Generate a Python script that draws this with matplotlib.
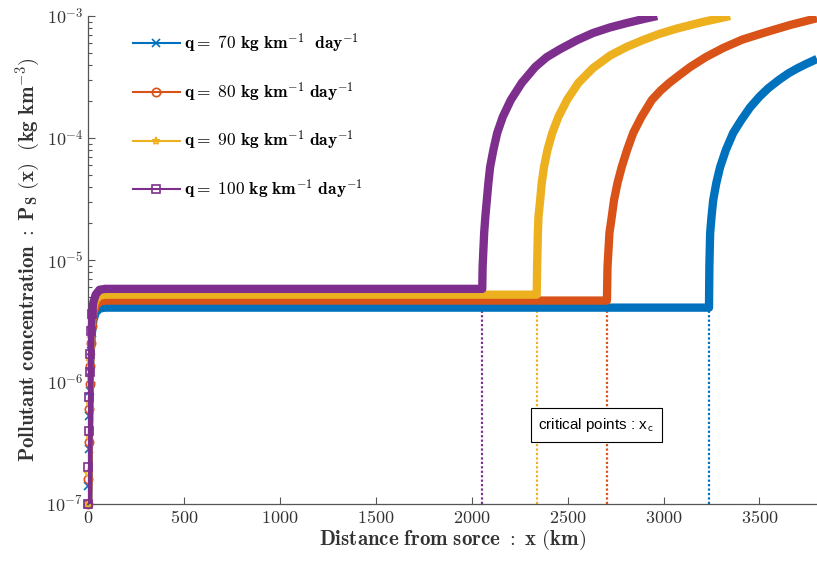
#!/usr/bin/env python3
"""Pollutant concentration along the river for four source loads (log scale)."""

from __future__ import annotations

import math

import matplotlib

matplotlib.use("Agg")
import matplotlib.pyplot as plt
from matplotlib.lines import Line2D
from matplotlib.ticker import FuncFormatter, LogLocator, NullFormatter

LABELS = [
    r"$\mathbf{q{=}\ 70\ kg\ km^{-1}\ \ day^{-1}}$",
    r"$\mathbf{q{=}\ 80\ kg\ km^{-1}\ day^{-1}}$",
    r"$\mathbf{q{=}\ 90\ kg\ km^{-1}\ day^{-1}}$",
    r"$\mathbf{q{=}\ 100\ kg\ km^{-1}\ day^{-1}}$",
]
COLORS = ["#0072BD", "#D95319", "#EDB120", "#7E2F8E"]
MARKERS = ["x", "o", "*", "s"]

# start-up rise near the source (same x for all four loads)
X_START = [0, 2, 4, 6, 8, 10, 14, 20, 28, 40, 60, 90]
Y_START = [
    [1.0e-7, 1.4e-7, 2.8e-7, 5.3e-7, 8.4e-7, 1.2e-6, 1.8e-6, 2.5e-6, 3.2e-6, 3.7e-6, 4.0e-6, 4.07e-6],
    [1.0e-7, 1.6e-7, 3.2e-7, 6.0e-7, 9.6e-7, 1.35e-6, 2.1e-6, 2.9e-6, 3.6e-6, 4.2e-6, 4.55e-6, 4.65e-6],
    [1.0e-7, 1.8e-7, 3.6e-7, 6.8e-7, 1.1e-6, 1.5e-6, 2.3e-6, 3.2e-6, 4.1e-6, 4.7e-6, 5.1e-6, 5.2e-6],
    [1.0e-7, 2.0e-7, 4.0e-7, 7.5e-7, 1.2e-6, 1.7e-6, 2.6e-6, 3.6e-6, 4.5e-6, 5.2e-6, 5.7e-6, 5.8e-6],
]

# critical points x_c and plateau level reached there
X_CRIT = [3237, 2705, 2339, 2055]
P_PLATEAU = [4.07e-6, 4.65e-6, 5.2e-6, 5.8e-6]

# growth after the critical point
X_GROW = [
    [3239, 3243, 3250, 3259, 3275, 3295, 3325, 3363, 3405, 3451, 3500, 3545, 3600, 3650, 3697, 3740, 3780, 3800],
    [2708, 2718, 2730, 2742, 2760, 2782, 2810, 2842, 2885, 2939, 2985, 3030, 3085, 3139, 3220, 3311, 3410, 3520, 3660, 3800],
    [2341, 2345, 2348, 2357, 2365, 2377, 2395, 2420, 2452, 2497, 2556, 2633, 2722, 2810, 2894, 2980, 3071, 3200, 3347],
    [2057, 2065, 2071, 2079, 2087, 2096, 2113, 2133, 2162, 2204, 2261, 2331, 2391, 2461, 2550, 2633, 2720, 2810, 2890, 2967],
]
Y_GROW = [
    [8.8e-6, 1.66e-5, 2.25e-5, 3.1e-5, 4.27e-5, 5.78e-5, 7.98e-5, 1.1e-4, 1.4e-4, 1.78e-4, 2.18e-4, 2.55e-4, 2.98e-4, 3.38e-4, 3.72e-4, 4.02e-4, 4.3e-4, 4.45e-4],
    [8.8e-6, 1.66e-5, 2.25e-5, 3.1e-5, 4.27e-5, 5.78e-5, 7.98e-5, 1.1e-4, 1.49e-4, 2.05e-4, 2.45e-4, 2.83e-4, 3.3e-4, 3.82e-4, 4.6e-4, 5.47e-4, 6.4e-4, 7.26e-4, 8.44e-4, 9.6e-4],
    [8.8e-6, 1.66e-5, 2.25e-5, 3.1e-5, 4.27e-5, 5.78e-5, 7.98e-5, 1.1e-4, 1.49e-4, 2.05e-4, 2.83e-4, 3.75e-4, 4.75e-4, 5.6e-4, 6.36e-4, 7.15e-4, 7.9e-4, 8.9e-4, 1.0e-3],
    [8.8e-6, 1.66e-5, 2.25e-5, 3.1e-5, 4.27e-5, 5.78e-5, 7.98e-5, 1.1e-4, 1.49e-4, 2.05e-4, 2.83e-4, 3.82e-4, 4.6e-4, 5.35e-4, 6.35e-4, 7.26e-4, 8.05e-4, 8.77e-4, 9.4e-4, 1.0e-3],
]

X_TICKS = [0, 500, 1000, 1500, 2000, 2500, 3000, 3500]
NOTE_XY = (2649, 4.45e-7)


def main() -> None:
    plt.rcParams.update(
        {
            "mathtext.fontset": "cm",
            "font.family": "serif",
            "axes.spines.top": False,
            "axes.spines.right": False,
            "axes.edgecolor": "#555555",
            "xtick.color": "#555555",
            "ytick.color": "#555555",
            "xtick.labelcolor": "#333333",
            "ytick.labelcolor": "#333333",
        }
    )

    fig = plt.figure(figsize=(8.17, 5.63), dpi=100)
    ax = fig.add_axes([88 / 817, 59 / 563, 729 / 817, 488 / 563])

    for i in range(4):
        xs = X_START + [X_CRIT[i]] + X_GROW[i]
        ys = Y_START[i] + [P_PLATEAU[i]] + Y_GROW[i]
        ax.plot(xs, ys, color=COLORS[i], lw=6, solid_capstyle="butt",
                solid_joinstyle="round", zorder=2 + i)
        ax.plot(
            X_START[:8],
            Y_START[i][:8],
            ls="none",
            marker=MARKERS[i],
            color=COLORS[i],
            mfc="none",
            ms=6,
            mew=1.2,
            clip_on=False,
            zorder=2 + i,
        )
        ax.plot(
            [X_CRIT[i], X_CRIT[i]],
            [1e-7, P_PLATEAU[i]],
            color=COLORS[i],
            ls=(0, (1, 1)),
            lw=1.6,
            zorder=1,
        )

    ax.set_yscale("log")
    ax.set_xlim(0, 3800)
    ax.set_ylim(1e-7, 1e-3)
    ax.set_xticks(X_TICKS)
    ax.xaxis.set_major_formatter(FuncFormatter(lambda v, _: f"${int(v)}$"))
    ax.yaxis.set_major_locator(LogLocator(base=10, numticks=10))
    ax.yaxis.set_minor_locator(LogLocator(base=10, subs=range(2, 10), numticks=20))
    ax.yaxis.set_minor_formatter(NullFormatter())
    ax.yaxis.set_major_formatter(
        FuncFormatter(lambda v, _: f"$10^{{{int(round(math.log10(v)))}}}$")
    )
    ax.tick_params(axis="both", which="both", direction="in", labelsize=13, width=0.8)
    ax.tick_params(axis="both", which="major", length=5)
    ax.tick_params(axis="y", which="minor", length=3)
    for sp in ("left", "bottom"):
        ax.spines[sp].set_linewidth(0.9)

    ax.set_xlabel(r"$\mathbf{Distance\ from\ sorce\ :\ x\ (km)}$", fontsize=15, color="#333333", labelpad=1)
    ax.set_ylabel(
        r"$\mathbf{Pollutant\ concentration\ :\ P_S\ (x)\ \ (kg\ km^{-3})}$",
        fontsize=15,
        color="#333333",
        labelpad=3,
    )

    ax.text(
        NOTE_XY[0],
        NOTE_XY[1],
        r"critical points : x$_\mathsf{c}$",
        family="Liberation Sans",
        fontsize=11,
        ha="center",
        va="center",
        bbox=dict(boxstyle="square,pad=0.5", fc="white", ec="black", lw=0.8),
        zorder=10,
    )

    handles = [
        Line2D([], [], color=c, marker=m, mfc="none", ms=6, mew=1.2, lw=1.5)
        for c, m in zip(COLORS, MARKERS)
    ]
    ax.legend(
        handles,
        LABELS,
        loc="upper left",
        bbox_to_anchor=(0.04, 1.0),
        frameon=False,
        fontsize=12.5,
        handlelength=2.7,
        handletextpad=0.25,
        labelspacing=1.45,
    )

    fig.savefig("out.png", dpi=100)


if __name__ == "__main__":
    main()
